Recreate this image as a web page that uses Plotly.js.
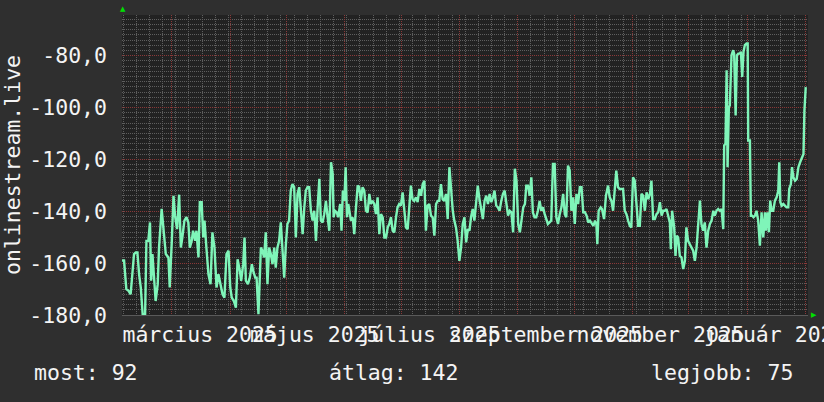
<!DOCTYPE html>
<html>
<head>
<meta charset="utf-8">
<script src="https://cdn.plot.ly/plotly-3.0.1.min.js"></script>
<style>
  html, body { margin: 0; padding: 0; background: #2f2f2f; }
  #chart { width: 824px; height: 402px; }
</style>
</head>
<body>
<div id="chart"></div>
<script>
// ---- data ----
const seriesName = 'onlinestream.live';
const startDate = '2025-02-02 10:00';
const endDate = '2026-02-02 10:00';

// days elapsed since startDate
const dayOffset = [
  0, 1.1, 2.3, 3.5, 4.6, 5.5, 6.4, 7.3, 8.2, 9.1, 10, 11, 12.3, 13, 14, 14.9, 15.5, 16.2, 17.2, 17.9,
  19, 19.7, 21.1, 22.4, 23.3, 24.7, 25.4, 26.5, 27.4, 28.2, 29.3, 30.4, 31.3, 32.1, 33.2, 34.3, 35.3, 36.1, 37.1, 37.8,
  38.9, 39.6, 40.7, 41.4, 42.4, 43.2, 43.9, 44.9, 46, 47.1, 48.1, 49.2, 50.3, 51.3, 52.4, 53.5, 54.5, 55.6, 56.7, 57.6,
  58.4, 59.5, 60.6, 61.5, 62.7, 63.4, 64.5, 65.2, 65.9, 67, 68, 69.1, 69.8, 70.9, 71.6, 72.6, 73.9, 74.7, 75.6, 76.5,
  77.4, 78.3, 79.2, 80.1, 81, 81.8, 82.7, 83.6, 84.5, 85.4, 86.3, 87.2, 88, 88.9, 89.8, 90.7, 91.6, 92.5, 93.4, 94.3,
  95.2, 96.1, 97, 97.8, 98.7, 99.6, 100.5, 101.4, 102.3, 103.2, 104.1, 105, 105.8, 106.7, 107.6, 108.5, 109.4, 110.3, 111.2, 112.1,
  112.6, 113.3, 114.3, 115, 116.1, 116.8, 117.5, 118.3, 119, 119.7, 120.4, 121.1, 121.8, 122.7, 123.6, 124.5, 125.4, 126.2, 127.1, 128,
  128.9, 129.8, 130.7, 131.6, 132.4, 133.3, 134.2, 135.1, 136, 136.9, 137.8, 138.7, 139.6, 140.5, 141.4, 142.2, 143.1, 144, 144.9, 145.8,
  146.6, 147.5, 148.4, 149.3, 150.2, 151.1, 152, 152.9, 153.7, 154.6, 155.5, 156.4, 157.3, 158.2, 159.1, 160, 160.9, 161.7, 162.6, 163.5,
  164.4, 165.3, 166.2, 167.1, 168, 168.8, 169.7, 170.6, 171.5, 172.4, 173.3, 174.2, 175.1, 176, 176.8, 177.7, 178.6, 179.5, 180.4, 181.3,
  182.2, 183.1, 184, 184.9, 185.7, 186.6, 187.5, 188.4, 189.3, 190.2, 191.1, 192, 192.9, 193.8, 194.7, 195.6, 196.5, 197.4, 198.2, 199.1,
  200, 200.9, 201.8, 202.7, 203.6, 204.5, 205.4, 206.3, 207.2, 208.1, 209, 209.9, 210.8, 211.7, 212.6, 213.5, 214.4, 215.1, 216, 216.9,
  217.8, 218.6, 219.5, 220.4, 221.3, 222.2, 223.1, 224, 224.9, 225.8, 226.6, 227.5, 228.4, 229.3, 230.2, 231.1, 232, 232.9, 233.8, 234.7,
  235.6, 236.4, 237.3, 238.2, 239.1, 240, 240.9, 241.8, 242.7, 243.6, 244.5, 245.4, 246.3, 247.2, 248.1, 249, 249.9, 250.8, 251.7, 252.4,
  252.9, 253.6, 254.7, 255.4, 256.5, 257.5, 258.6, 259.5, 260.4, 261.3, 262.2, 263, 263.9, 264.8, 265.7, 266.6, 267.5, 268.4, 269.3, 270.2,
  271, 271.9, 272.8, 273.7, 274.6, 275.5, 276.4, 277.3, 278.2, 279.1, 280, 280.9, 281.7, 282.6, 283.5, 284.4, 285.3, 286.2, 287.1, 288,
  288.8, 289.7, 290.6, 291.5, 292, 292.7, 293.8, 294.5, 295.2, 295.9, 296.8, 297.7, 298.6, 299.5, 300.3, 301.2, 302.1, 303, 303.9, 304.8,
  305.7, 306.6, 307.5, 308.3, 309.2, 310.1, 311, 311.9, 312.8, 313.7, 314.6, 315.4, 316.3, 317.2, 318.1, 319, 319.9, 320.4, 321.1, 321.7,
  322.2, 322.9, 323.4, 324.3, 325.2, 325.7, 326.5, 327.2, 327.9, 328.8, 329.3, 330, 330.7, 331.4, 332.3, 332.9, 333.2, 334.1, 334.6, 335.3,
  336, 336.8, 337.6, 338.5, 339.4, 340.3, 341.2, 342.1, 342.6, 343.5, 344.2, 344.9, 345.6, 346.5, 347.4, 348.3, 349.2, 349.7, 350.3, 351,
  351.9, 352.7, 353.6, 354.5, 355, 355.9, 356.5, 357.2, 358.1, 359, 359.9, 360.8, 361.7, 362.6, 363.1, 363.8
];

const online = [
  -159, -159, -170, -170.7, -172, -164.3, -156.5, -155.9, -155.9, -164.3, -169.4, -179.7, -179.7, -151.4, -151.4, -144.3, -166.8, -156.5, -166.8, -174.6,
  -168.1, -154, -139.1, -151.4, -156.5, -157.8, -169.4, -151.4, -134, -141.7, -146.9, -133.6, -154, -150.1, -143.6, -142.3, -144.3, -154, -151.4, -147.5,
  -151.4, -147.5, -157.8, -136.5, -136.5, -150.1, -143.6, -154, -164.3, -168.1, -148.1, -154, -169.4, -164.3, -168.1, -172, -173.3, -156.5, -155.2, -169.4,
  -173.3, -174.6, -177.2, -158.5, -163, -166.8, -160.4, -150.1, -166.8, -168.1, -165.6, -160.4, -163, -165.6, -165.6, -179.7, -154, -155.2, -157.8, -148.1,
  -168.1, -154, -156.5, -160.4, -154, -161.7, -154, -151.4, -144.3, -156.5, -165.6, -152.7, -144.9, -143.6, -132, -129.5, -130.7, -150.1, -133.3, -130.7,
  -138.5, -148.8, -138.5, -132, -130.7, -130.7, -139.8, -143.6, -139.8, -151.4, -138.5, -127.5, -143.6, -144.3, -141.1, -136, -142.3, -147.5, -121.1, -125.6,
  -142.3, -139.8, -140.4, -142.3, -137.2, -147.5, -132, -136, -123, -142.3, -137.2, -139.8, -143.6, -142.3, -148.8, -138.5, -130.1, -130.7, -136, -130.7,
  -132, -139.8, -140.4, -133.3, -137.2, -136, -137.2, -141.1, -134.6, -148.8, -141.1, -142.3, -150.1, -150.1, -146.2, -144.9, -142.3, -147.5, -148.1, -142.3,
  -138.5, -137.2, -137.8, -132.7, -138.5, -146.2, -146.9, -136, -130.1, -135.3, -136, -134.6, -136.5, -131.4, -134, -129.5, -128.2, -147.5, -137.8, -137.2,
  -141.7, -142.3, -149.4, -137.2, -136, -136, -129.5, -135.3, -136, -133.3, -143, -123, -133.3, -139.8, -143.6, -146.2, -151.4, -159.1, -154, -144.9,
  -142.3, -152, -146.9, -147.5, -142.3, -139.1, -143.6, -137.8, -130.1, -135.3, -139.8, -143, -136, -134, -137.2, -133.3, -136.5, -134.6, -132, -137.8,
  -138.5, -139.8, -136, -133.3, -132, -137.2, -141.7, -139.8, -140.4, -148.1, -123.6, -128.2, -144.9, -148.1, -142.3, -138.5, -137.2, -130.1, -130.1, -134,
  -126.9, -140.4, -142.3, -142.3, -139.8, -136, -139.8, -138.5, -141.1, -143.6, -144.9, -144.3, -143.6, -121.7, -121.7, -142.3, -144.9, -141.1, -138.5, -133.3,
  -141.1, -142.3, -122.4, -124.3, -139.8, -134.6, -144.9, -133.3, -137.2, -130.7, -130.7, -140.4, -140.4, -141.7, -144.3, -143.6, -144.9, -145.6, -143.6, -144.9,
  -152.7, -139.8, -138.5, -139.1, -143, -134, -130.1, -134.6, -136, -139.8, -131.4, -124.3, -130.7, -131.4, -131.4, -131.4, -139.8, -141.1, -143.6, -145.6,
  -146.2, -126.9, -128.2, -138.5, -145.6, -145.6, -133.3, -134, -139.8, -132.7, -135.3, -133.3, -128.2, -143, -143, -141.1, -140.4, -136.5, -141.7, -139.8,
  -139.8, -139.1, -142.3, -144.3, -154.6, -139.8, -146.2, -157.2, -149.4, -150.1, -157.2, -157.8, -162.3, -159.1, -146.2, -151.4, -152.7, -154, -155.2, -159.1,
  -154, -144.9, -135.9, -144.9, -147.5, -144.3, -154, -147.5, -144.9, -143.6, -139.8, -141.7, -139.8, -139.1, -139.8, -139.1, -146.9, -114.6, -114, -85.6,
  -123, -99.8, -99.2, -79.8, -77.9, -79.2, -103, -79.8, -79.2, -79.2, -78.5, -88.2, -78.5, -75.9, -75.3, -75.3, -112.7, -112.7, -141.7, -141.7,
  -142.3, -141.7, -139.8, -143.6, -153.3, -140.4, -150.1, -140.4, -147.5, -140.4, -148.1, -135.9, -139.8, -139.8, -135.9, -134.6, -132, -121.1, -136.5, -137.8,
  -137.2, -137.8, -138.5, -138.5, -131.4, -129.5, -123, -126.9, -128.2, -127.5, -123, -121.1, -119.8, -117.9, -101.1, -92.1
];

// axis labels
const xTickVals = ['2025-03-16', '2025-05-16', '2025-07-16', '2025-09-16', '2025-11-16', '2026-01-16'];
const xTickText = ['március 2025', 'május 2025', 'július 2025', 'szeptember 2025', 'november 2025', 'január 2026'];
const yTickVals = [-180, -160, -140, -120, -100, -80];
const yTickText = ['-180,0', '-160,0', '-140,0', '-120,0', '-100,0', '-80,0'];

// summary line under the chart
const legendLabels = ['most', 'átlag', 'legjobb'];
const legendValues = [92, 142, 75];

// ---- styling ----
const FONT = 'DejaVu Sans Mono, monospace';
const FS = 21.5;
const TXT = '#f4f4f4';
const MAJOR = '#8a3838';
const MINOR = '#5e5e5e';
const DAY = 86400000;

const t0 = new Date(startDate.replace(' ', 'T') + ':00Z').getTime();
const xs = dayOffset.map(d => t0 + d * DAY);

const trace = {
  type: 'scatter', mode: 'lines', x: xs, y: online, name: seriesName,
  line: { color: '#7ff5b9', width: 2.4 }, hoverinfo: 'skip', showlegend: false
};

const legendX = [-0.1297, 0.3003, 0.7697];
const annotations = legendLabels.map((l, i) => ({
  xref: 'paper', yref: 'paper', x: legendX[i], y: -0.193, xanchor: 'left', yanchor: 'middle',
  text: l + ': ' + legendValues[i], showarrow: false, borderpad: 0,
  font: { family: FONT, size: FS, color: TXT }
}));
annotations.push({ xref: 'paper', yref: 'paper', x: 0.002, y: 1.005, xanchor: 'center', yanchor: 'bottom',
  text: '▲', showarrow: false, borderpad: 0, font: { family: 'DejaVu Sans', size: 7, color: '#00e000' } });
annotations.push({ xref: 'paper', yref: 'paper', x: 1.003, y: 0, xanchor: 'left', yanchor: 'middle',
  text: '▶', showarrow: false, borderpad: 0, font: { family: 'DejaVu Sans', size: 7, color: '#00e000' } });

const layout = {
  width: 824, height: 402,
  margin: { l: 122, r: 16, t: 15, b: 87 },
  paper_bgcolor: '#2f2f2f', plot_bgcolor: '#222222',
  font: { family: FONT, size: FS, color: TXT },
  showlegend: false,
  xaxis: {
    type: 'date', range: [startDate, endDate],
    tickmode: 'linear', tick0: '2025-01-01', dtick: 'M1',
    showticklabels: false, ticks: '',
    showgrid: true, gridcolor: MAJOR, griddash: '1px,1px', gridwidth: 1,
    minor: { tickmode: 'linear', tick0: '2025-02-03', dtick: 7 * DAY, showgrid: true, gridcolor: MINOR, griddash: '1px,1px', gridwidth: 1, ticks: '' },
    showline: true, linecolor: '#5a5a5a', linewidth: 1, zeroline: false
  },
  xaxis2: {
    type: 'date', range: [startDate, endDate], overlaying: 'x', anchor: 'y', side: 'bottom',
    tickmode: 'array', tickvals: xTickVals, ticktext: xTickText, tickangle: 0,
    ticklabeloverflow: 'allow', ticks: '', ticklabelstandoff: 4,
    showgrid: false, zeroline: false, showline: false,
    tickfont: { family: FONT, size: FS, color: TXT }
  },
  yaxis: {
    range: [-180, -64.3],
    tickmode: 'array', tickvals: yTickVals, ticktext: yTickText,
    ticks: '', ticklabelstandoff: 14,
    showgrid: true, gridcolor: MAJOR, griddash: '1px,1px', gridwidth: 1,
    minor: { tickmode: 'linear', tick0: 0, dtick: 2, showgrid: true, gridcolor: MINOR, griddash: '1px,1px', gridwidth: 1, ticks: '' },
    zeroline: false, showline: false,
    tickfont: { family: FONT, size: FS, color: TXT },
    title: { text: seriesName, font: { family: FONT, size: FS, color: TXT }, standoff: 10 }
  },
  annotations: annotations
};

Plotly.newPlot('chart', [trace, { type: 'scatter', x: [], y: [], xaxis: 'x2', showlegend: false }], layout, { staticPlot: true, displayModeBar: false });
</script>
</body>
</html>
